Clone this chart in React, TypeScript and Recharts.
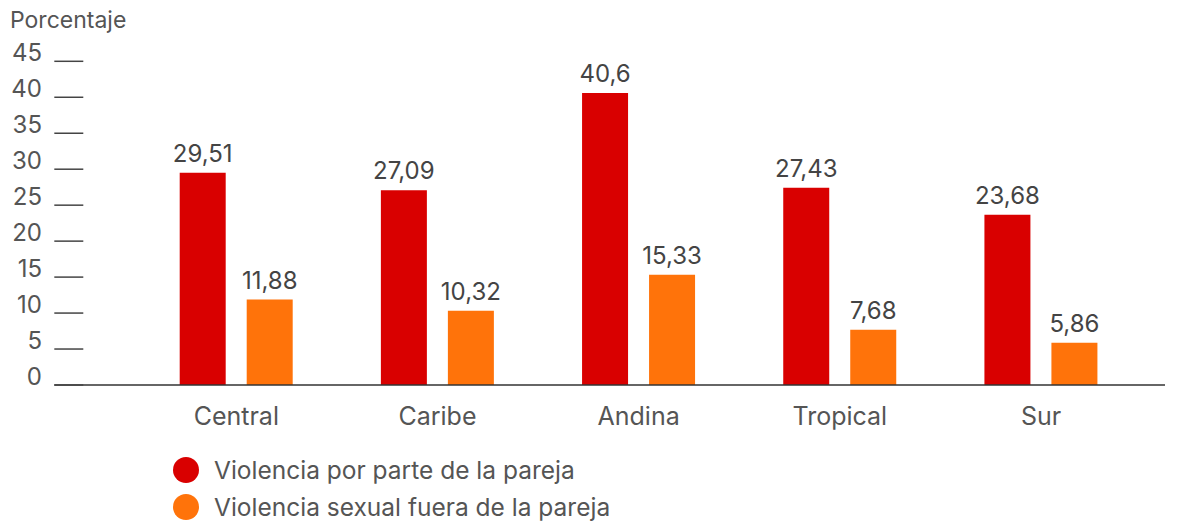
import React from "react";
import { BarChart, Bar, XAxis, YAxis, Legend, LabelList } from "recharts";

const categories = ["Central", "Caribe", "Andina", "Tropical", "Sur"];
const parejaValues = [29.51, 27.09, 40.6, 27.43, 23.68];
const sexualValues = [11.88, 10.32, 15.33, 7.68, 5.86];
const yTicks = [0, 5, 10, 15, 20, 25, 30, 35, 40, 45];
const seriesNames = ["Violencia por parte de la pareja", "Violencia sexual fuera de la pareja"];
const seriesColors = ["#D90000", "#FF730A"];
const yTitle = "Porcentaje";

const data = categories.map((c, i) => ({ name: c, pareja: parejaValues[i], sexual: sexualValues[i] }));

const FONT = "Inter, 'Noto Sans', sans-serif";
const TEXT = "#555";

const fmt = (v: any) => String(v).replace(".", ",");

const YTick = (props: any) => {
  const { y, payload } = props;
  return (
    <g>
      <line x1={46.3} x2={75.3} y1={y} y2={y} stroke="#444" strokeWidth={1.5} />
      <text x={34} y={y} textAnchor="end" fill={TEXT} fontSize={24} fontFamily={FONT}>
        {payload.value}
      </text>
    </g>
  );
};

const LegendContent = () => (
  <div style={{ fontFamily: FONT, fontSize: 24.5, color: TEXT }}>
    {seriesNames.map((n, i) => (
      <div key={n} style={{ display: "flex", alignItems: "center", height: 37 }}>
        <span
          style={{
            display: "inline-block",
            width: 26,
            height: 26,
            borderRadius: 13,
            background: seriesColors[i],
            marginRight: 15,
          }}
        />
        <span>{n}</span>
      </div>
    ))}
  </div>
);

export default function App() {
  return (
    <BarChart
      width={1164}
      height={513}
      data={data}
      margin={{ top: 53.3, right: 7, bottom: 6, left: 0 }}
      barGap={21}
    >
      <XAxis
        dataKey="name"
        axisLine={{ stroke: "#333", strokeWidth: 1.5 }}
        tickLine={false}
        tickMargin={16}
        height={50}
        padding={{ left: 81.4, right: 23.4 }}
        tick={{ fill: TEXT, fontSize: 25, fontFamily: FONT }}
      />
      <YAxis
        width={46.3}
        domain={[0, 45]}
        ticks={yTicks}
        axisLine={false}
        tickLine={false}
        tick={<YTick />}
        interval={0}
        label={{
          content: () => (
            <text x={2} y={20} fill={TEXT} fontSize={23} fontFamily={FONT}>
              {yTitle}
            </text>
          ),
        }}
      />
      <Legend
        content={<LegendContent />}
        wrapperStyle={{ top: 443, left: 165, width: 520, height: 80 }}
      />
      <Bar dataKey="pareja" name={seriesNames[0]} fill={seriesColors[0]} barSize={46} isAnimationActive={false}>
        <LabelList dataKey="pareja" position="top" offset={11} formatter={fmt} fill="#444" fontSize={24} fontFamily={FONT} />
      </Bar>
      <Bar dataKey="sexual" name={seriesNames[1]} fill={seriesColors[1]} barSize={46} isAnimationActive={false}>
        <LabelList dataKey="sexual" position="top" offset={11} formatter={fmt} fill="#444" fontSize={24} fontFamily={FONT} />
      </Bar>
    </BarChart>
  );
}
